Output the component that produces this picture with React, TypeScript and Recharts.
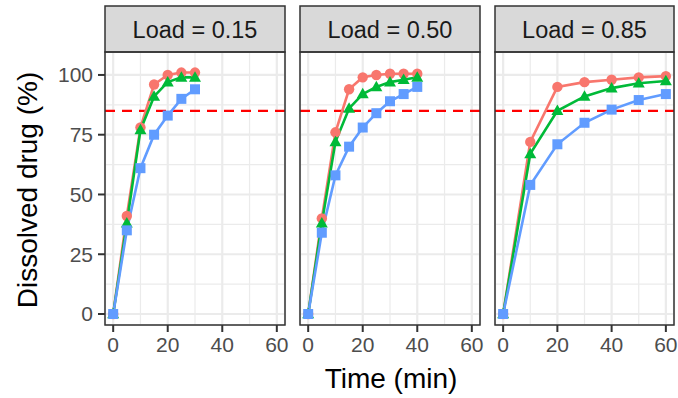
import React from "react";
import { LineChart, Line, XAxis, YAxis, CartesianGrid, ReferenceLine } from "recharts";

// ---- data ----
const panelLabels = ["Load = 0.15", "Load = 0.50", "Load = 0.85"];

const times015 = [0, 5, 10, 15, 20, 25, 30];
const red015 = [0, 41, 78, 96, 100, 101, 101];
const green015 = [0, 38, 77, 91, 97, 99, 99];
const blue015 = [0, 35, 61, 75, 83, 90, 94];

const times050 = [0, 5, 10, 15, 20, 25, 30, 35, 40];
const red050 = [0, 40, 76, 94, 99, 100, 100.5, 100.5, 100.5];
const green050 = [0, 38, 72, 86, 92, 95, 97, 98, 99];
const blue050 = [0, 34, 58, 70, 78, 84, 89, 92, 95];

const times085 = [0, 10, 20, 30, 40, 50, 60];
const red085 = [0, 72, 95, 97, 98, 99, 99.5];
const green085 = [0, 67, 85, 91, 94.5, 96.5, 97.5];
const blue085 = [0, 54, 71, 80, 85.5, 89.5, 92];

const xTicks = [0, 20, 40, 60];
const xMinor = [10, 30, 50];
const yTicks = [0, 25, 50, 75, 100];
const yMinor = [12.5, 37.5, 62.5, 87.5];
const threshold = 85;

const RED = "#F8766D";
const GREEN = "#00BA38";
const BLUE = "#619CFF";
const FONT = "'Liberation Sans', Arial, sans-serif";

function build(times: number[], r: number[], g: number[], b: number[]) {
  return times.map((t, i) => ({ time: t, r: r[i], g: g[i], b: b[i] }));
}

const panelData = [
  build(times015, red015, green015, blue015),
  build(times050, red050, green050, blue050),
  build(times085, red085, green085, blue085),
];

// ---- layout ----
const PANEL_TOP = 52;
const PANEL_BOTTOM = 325;
const STRIP_TOP = 6;
const panels = [
  { left: 105, right: 285 },
  { left: 300, right: 480 },
  { left: 495, right: 674 },
];
const Y_AXIS_W = 60;
const X_AXIS_H = 40;

const CircleDot = (props: any) => {
  const { cx, cy, index } = props;
  if (cx == null || cy == null) return <g key={`c-${index}`} />;
  return <circle key={`c-${index}`} cx={cx} cy={cy} r={5.2} fill={RED} />;
};
const TriDot = (props: any) => {
  const { cx, cy, index } = props;
  if (cx == null || cy == null) return <g key={`t-${index}`} />;
  const pts = `${cx},${cy - 6.2} ${cx - 6},${cy + 4.3} ${cx + 6},${cy + 4.3}`;
  return <polygon key={`t-${index}`} points={pts} fill={GREEN} />;
};
const SqDot = (props: any) => {
  const { cx, cy, index } = props;
  if (cx == null || cy == null) return <g key={`s-${index}`} />;
  const h = 5;
  return <rect key={`s-${index}`} x={cx - h} y={cy - h} width={2 * h} height={2 * h} fill={BLUE} />;
};

function Panel({ idx }: { idx: number }) {
  const p = panels[idx];
  const showY = idx === 0;
  const chartLeft = showY ? p.left - Y_AXIS_W - 10 : p.left - 10;
  const marginLeft = 10;
  const width = p.right - chartLeft + 6;
  const height = 398;
  const tickStyle = { fill: "#4D4D4D", fontSize: 21, fontFamily: FONT };
  return (
    <div style={{ position: "absolute", left: chartLeft, top: 0 }}>
      <LineChart
        width={width}
        height={height}
        data={panelData[idx]}
        margin={{ top: PANEL_TOP, bottom: height - PANEL_BOTTOM - X_AXIS_H, left: marginLeft, right: 6 }}
      >
        <CartesianGrid stroke="#EBEBEB" strokeWidth={2.2} />
        {xMinor.map((v) => (
          <ReferenceLine key={`xm${v}`} x={v} stroke="#EBEBEB" strokeWidth={1.2} />
        ))}
        {yMinor.map((v) => (
          <ReferenceLine key={`ym${v}`} y={v} stroke="#EBEBEB" strokeWidth={1.2} />
        ))}
        <XAxis
          dataKey="time"
          type="number"
          domain={[-3, 63]}
          ticks={xTicks}
          allowDataOverflow
          height={X_AXIS_H}
          axisLine={false}
          tickLine={{ stroke: "#333333", strokeWidth: 2 }}
          tickSize={7}
          tickMargin={5}
          tick={tickStyle}
          interval={0}
        />
        <YAxis
          type="number"
          domain={[-4.6, 109.6]}
          ticks={yTicks}
          allowDataOverflow
          width={Y_AXIS_W}
          hide={!showY}
          axisLine={false}
          tickLine={{ stroke: "#333333", strokeWidth: 2 }}
          tickSize={7}
          tickMargin={5}
          tick={tickStyle}
          interval={0}
        />
        <ReferenceLine y={threshold} stroke="#FF0000" strokeWidth={2.2} strokeDasharray="10 7" />
        <Line dataKey="r" stroke={RED} strokeWidth={2.6} dot={CircleDot} isAnimationActive={false} />
        <Line dataKey="g" stroke={GREEN} strokeWidth={2.6} dot={TriDot} isAnimationActive={false} />
        <Line dataKey="b" stroke={BLUE} strokeWidth={2.6} dot={SqDot} isAnimationActive={false} />
      </LineChart>
    </div>
  );
}

export default function App() {
  return (
    <div style={{ position: "absolute", left: 0, top: 0, width: 678, height: 398, background: "#fff", overflow: "hidden" }}>
      {panels.map((_, i) => (
        <Panel key={i} idx={i} />
      ))}
      <svg
        width={678}
        height={398}
        style={{ position: "absolute", left: 0, top: 0, pointerEvents: "none" }}
      >
        {panels.map((p, i) => (
          <g key={i}>
            <rect
              x={p.left}
              y={STRIP_TOP}
              width={p.right - p.left}
              height={PANEL_TOP - STRIP_TOP}
              fill="#D9D9D9"
              stroke="#333333"
              strokeWidth={1.5}
            />
            <text
              x={(p.left + p.right) / 2}
              y={37.5}
              textAnchor="middle"
              fontSize={23.5}
              fontFamily={FONT}
              fill="#1A1A1A"
            >
              {panelLabels[i]}
            </text>
            <rect
              x={p.left}
              y={PANEL_TOP}
              width={p.right - p.left}
              height={PANEL_BOTTOM - PANEL_TOP}
              fill="none"
              stroke="#333333"
              strokeWidth={1.5}
            />
          </g>
        ))}
        <text
          x={391}
          y={388}
          textAnchor="middle"
          fontSize={28}
          fontFamily={FONT}
          fill="#000"
        >
          Time (min)
        </text>
        <text
          x={37}
          y={190}
          transform="rotate(-90 37 190)"
          textAnchor="middle"
          fontSize={28}
          fontFamily={FONT}
          fill="#000"
        >
          Dissolved drug (%)
        </text>
      </svg>
    </div>
  );
}
